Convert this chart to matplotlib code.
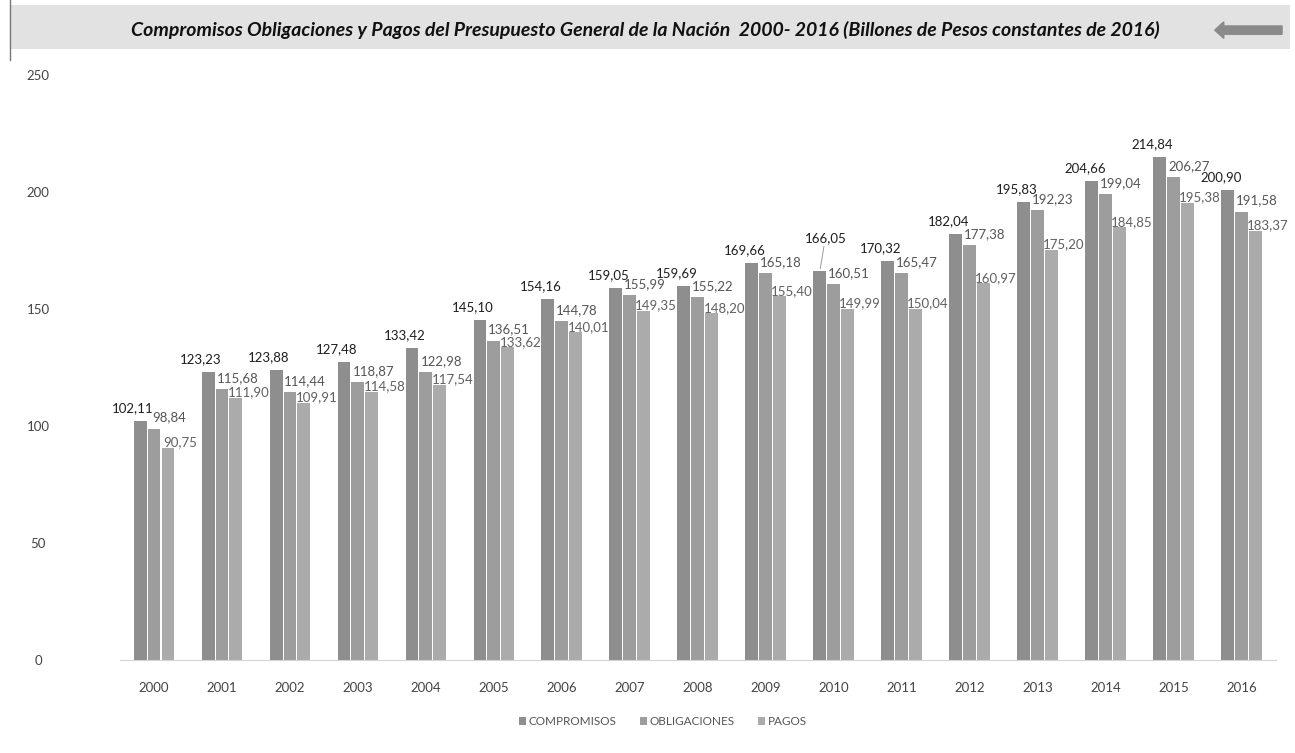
import numpy as np
import matplotlib
matplotlib.use("Agg")
import matplotlib.pyplot as plt
from matplotlib.patches import Rectangle, FancyArrow

# datos (billones de pesos constantes de 2016)
years = ["2000", "2001", "2002", "2003", "2004", "2005", "2006", "2007", "2008",
         "2009", "2010", "2011", "2012", "2013", "2014", "2015", "2016"]
compromisos = [102.11, 123.23, 123.88, 127.48, 133.42, 145.10, 154.16, 159.05, 159.69,
               169.66, 166.05, 170.32, 182.04, 195.83, 204.66, 214.84, 200.90]
obligaciones = [98.84, 115.68, 114.44, 118.87, 122.98, 136.51, 144.78, 155.99, 155.22,
                165.18, 160.51, 165.47, 177.38, 192.23, 199.04, 206.27, 191.58]
pagos = [90.75, 111.90, 109.91, 114.58, 117.54, 133.62, 140.01, 149.35, 148.20,
         155.40, 149.99, 150.04, 160.97, 175.20, 184.85, 195.38, 183.37]
series_names = ["COMPROMISOS", "OBLIGACIONES", "PAGOS"]

plt.rcParams['font.family'] = ['Lato', 'DejaVu Sans']

fig = plt.figure(figsize=(12.95, 7.53), dpi=100)
ax = fig.add_axes([0.0927, 0.1235, 0.8923, 0.7769])

colors = ["#8e8e8e", "#9d9d9d", "#ababab"]
label_colors = ["#1e1e1e", "#555555", "#606060"]
# desplazamiento de las etiquetas (puntos) por serie
offsets = [(-5, 5), (11, 8), (9, 4)]
w = 0.19
x = np.arange(len(years))
data = [compromisos, obligaciones, pagos]

for i, (vals, name) in enumerate(zip(data, series_names)):
    pos = x + (i - 1) * (w + 0.015)
    ax.bar(pos, vals, width=w, color=colors[i], label=name, edgecolor="none")
    for k, (px, v) in enumerate(zip(pos, vals)):
        txt = f"{v:.2f}".replace(".", ",")
        off = offsets[i]
        arrow = None
        # la etiqueta de 2010 esta desplazada hacia arriba con linea guia
        if i == 0 and years[k] == "2010":
            off = (4, 20)
            arrow = dict(arrowstyle="-", color="#999999", lw=0.7, shrinkA=0, shrinkB=2)
        ax.annotate(txt, (px, v), xytext=off, textcoords="offset points",
                    ha="center", va="bottom" if i == 0 else "center",
                    fontsize=9.5, color=label_colors[i], arrowprops=arrow)

ax.set_xlim(-0.5, len(years) - 0.5)
ax.set_ylim(0, 250)
ax.set_yticks([0, 50, 100, 150, 200, 250])
ax.set_xticks(x)
ax.set_xticklabels(years)
for s in ["top", "right", "left"]:
    ax.spines[s].set_visible(False)
ax.spines["bottom"].set_color("#d4d4d4")
ax.tick_params(axis="both", length=0, labelsize=9.5, colors="#444444")
ax.tick_params(axis="x", pad=16)
ax.tick_params(axis="y", pad=59)
for lab in ax.get_yticklabels():
    lab.set_ha("center")

leg = ax.legend(loc="upper center", bbox_to_anchor=(0.47, -0.078), ncol=3, frameon=False,
                fontsize=8.5, handlelength=0.6, handleheight=0.6, handletextpad=0.2,
                columnspacing=2.0)
for t in leg.get_texts():
    t.set_color("#555555")

# banda del titulo
fig.patches.append(Rectangle((0.008, 0.935), 0.988, 0.058, transform=fig.transFigure,
                             facecolor="#e2e2e2", edgecolor="none", zorder=0))
fig.lines.append(plt.Line2D([0.008, 0.008], [0.92, 1.0], transform=fig.transFigure,
                            color="#777777", lw=1))
fig.text(0.498, 0.96, "Compromisos Obligaciones y Pagos del Presupuesto General de la Nación  2000- 2016 (Billones de Pesos constantes de 2016)",
         ha="center", va="center", fontsize=14, fontweight="bold", fontstyle="italic",
         color="#111111")
fig.patches.append(FancyArrow(0.99, 0.96, -0.045, 0, width=0.011, head_width=0.022,
                              head_length=0.007, transform=fig.transFigure,
                              color="#8a8a8a", zorder=2))

fig.savefig("out.png", dpi=100)
